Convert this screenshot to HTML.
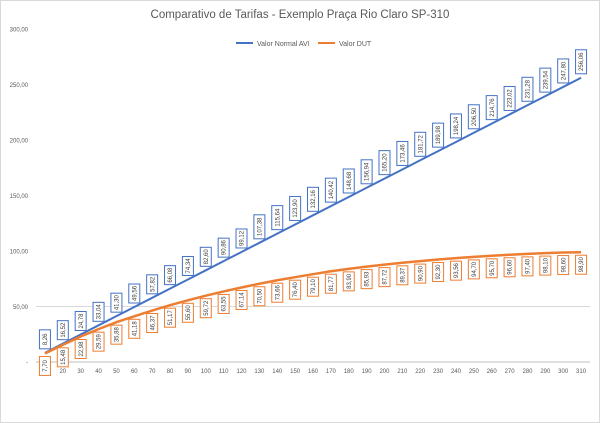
<!DOCTYPE html>
<html><head><meta charset="utf-8"><style>
html,body{margin:0;padding:0;background:#fff}
svg{display:block;font-family:"Liberation Sans",sans-serif}
</style></head><body>
<svg id="chart" width="600" height="423" viewBox="0 0 600 423">
<rect x="0.5" y="0.5" width="599" height="422" fill="#fff" stroke="#d9d9d9"/>
<text x="300" y="18" text-anchor="middle" font-size="11.5" fill="#595959">Comparativo de Tarifas - Exemplo Praça Rio Claro SP-310</text>
<g>
<g><line x1="236" y1="43" x2="253" y2="43" stroke="#4472c4" stroke-width="2"/><text x="257" y="46" font-size="7" fill="#595959">Valor Normal AVI</text></g>
<g><line x1="318" y1="43" x2="335" y2="43" stroke="#ed7d31" stroke-width="2"/><text x="339" y="46" font-size="7" fill="#595959">Valor DUT</text></g>
</g>
<g id="grid"></g><g id="yticks"></g><g id="xticks"></g><g id="series"></g><g id="labels"></g>
</svg>
<script>
const categories = [10,20,30,40,50,60,70,80,90,100,110,120,130,140,150,160,170,180,190,200,210,220,230,240,250,260,270,280,290,300,310];
const valorNormal = [8.26,16.52,24.78,33.04,41.30,49.56,57.82,66.08,74.34,82.60,90.86,99.12,107.38,115.64,123.90,132.16,140.42,148.68,156.94,165.20,173.46,181.72,189.98,198.24,206.50,214.76,223.02,231.28,239.54,247.80,256.06];
const valorDut = [7.70,15.48,22.98,29.59,35.88,41.18,46.37,51.17,55.60,59.72,63.55,67.14,70.50,73.66,76.40,79.10,81.77,83.90,85.93,87.72,89.37,90.90,92.30,93.56,94.70,95.70,96.60,97.40,98.10,98.60,98.90];
const yTicks = [0,50,100,150,200,250,300];
const yTickLabels = ["-","50,00","100,00","150,00","200,00","250,00","300,00"];

const X0=36, X1=590, Y0=362, PXU=1.11;
const bw=(X1-X0)/categories.length;
const xs=i=>X0+bw*(i+0.5);
const ys=v=>Y0-v*PXU;
const NS="http://www.w3.org/2000/svg";
function mk(t,a,p){const e=document.createElementNS(NS,t);for(const k in a)e.setAttribute(k,a[k]);p.appendChild(e);return e;}
const fmt=v=>v.toFixed(2).replace('.',',');

const grid=document.getElementById('grid'), yt=document.getElementById('yticks');
yTicks.forEach((t,i)=>{
  const l=mk('line',{x1:X0,x2:X1,y1:ys(t),y2:ys(t),stroke:t===0?'#bfbfbf':(t===50?'#d9d9d9':'#fff')},grid);
  
  
  const tx=mk('text',{x:28,y:ys(t)+2.5,'text-anchor':'end','font-size':6,fill:'#595959'},yt);
  tx.textContent=yTickLabels[i];
  
  
});
const xt=document.getElementById('xticks');
categories.forEach((c,i)=>{
  const tx=mk('text',{x:xs(i),y:373,'text-anchor':'middle','font-size':6,fill:'#595959'},xt);
  tx.textContent=c;
  
  
});
const ser=document.getElementById('series');
const p1=mk('polyline',{points:valorNormal.map((v,i)=>xs(i)+','+ys(v)).join(' '),fill:'none',stroke:'#4472c4','stroke-width':2},ser);


const p2=mk('polyline',{points:valorDut.map((v,i)=>xs(i)+','+ys(v)).join(' '),fill:'none',stroke:'#ed7d31','stroke-width':2.5},ser);



const lab=document.getElementById('labels');
function box(x,top,h,txt,col,name){
  const g=mk('g',{},lab);
  
  
  mk('rect',{x:x-5.5,y:top,width:11,height:h,fill:'#fff',stroke:col,'stroke-width':1},g);
  const t=mk('text',{x:0,y:0,'text-anchor':'middle','font-size':6,fill:'#404040',transform:`translate(${x+2.1},${top+h/2}) rotate(-90)`},g);
  t.textContent=txt;
}
valorNormal.forEach((v,i)=>{const s=fmt(v);const h=s.length>5?24:19;box(xs(i),ys(v)-4-h,h,s,'#4472c4','label-normal-'+categories[i]);});
valorDut.forEach((v,i)=>{const s=fmt(v);const h=s.length>5?24:19;box(xs(i),ys(v)+3,h,s,'#ed7d31','label-dut-'+categories[i]);});
</script>
</body></html>
